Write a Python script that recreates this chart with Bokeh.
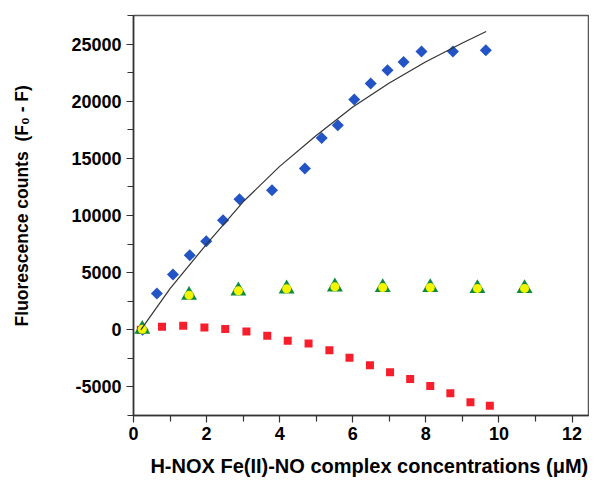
import numpy as np
from bokeh.plotting import figure
from bokeh.models import Range1d, FixedTicker
from bokeh.embed import file_html
from bokeh.resources import INLINE

# ---- data ----
diamond_x = [0.25, 0.64, 1.08, 1.54, 1.99, 2.45, 2.90, 3.79, 4.69, 5.15, 5.59, 6.04,
             6.49, 6.95, 7.39, 7.88, 8.74, 9.64]
diamond_y = [0, 3180, 4840, 6530, 7750, 9590, 11430, 12210, 14110, 16780, 17890, 20140,
             21540, 22700, 23430, 24360, 24360, 24450]

square_x = [0.2, 0.78, 1.36, 1.94, 2.51, 3.09, 3.66, 4.22, 4.79, 5.36, 5.91, 6.47,
            7.02, 7.57, 8.12, 8.67, 9.22, 9.75]
square_y = [0, 270, 350, 210, 60, -140, -520, -960, -1190, -1800, -2450, -3110,
            -3720, -4310, -4920, -5560, -6350, -6640]

tri_x = [0.24, 1.52, 2.87, 4.19, 5.51, 6.82, 8.12, 9.41, 10.70]
tri_y = [50, 3030, 3410, 3590, 3760, 3700, 3700, 3620, 3620]

fit_x = [0.2, 1.0, 2.0, 3.0, 4.0, 5.0, 6.0, 7.0, 8.0, 9.0, 9.65]
fit_y = [0, 3600, 7500, 11200, 14300, 17000, 19500, 21600, 23450, 25100, 26100]

x_ticks = [0, 2, 4, 6, 8, 10, 12]
x_minor = [1, 3, 5, 7, 9, 11]
y_ticks = [-5000, 0, 5000, 10000, 15000, 20000, 25000]
y_minor = [-7500, -2500, 2500, 7500, 12500, 17500, 22500, 27500]
y_tick_labels = ["-5000", "0", "5000", "10000", "15000", "20000", "25000"]

x_title = "H-NOX Fe(II)-NO complex concentrations (\u03bcM)"
y_title = "Fluorescence counts\u00a0\u00a0(F\u2080 - F)"

FONT = "Liberation Sans"
NB = "\u00a0"

p = figure(width=589, height=483, output_backend="svg", toolbar_location=None,
           x_range=Range1d(0, 12.45), y_range=Range1d(-7500, 27500),
           min_border_left=133, min_border_top=15, min_border_right=1,
           min_border_bottom=68)

p.xgrid.visible = False
p.ygrid.visible = False
p.background_fill_color = "white"
p.border_fill_color = "white"
p.outline_line_color = "#555555"
p.outline_line_width = 1.5

for ax in (p.xaxis[0], p.yaxis[0]):
    ax.axis_line_color = "#333333"
    ax.axis_line_width = 1.5
    ax.major_tick_line_color = "#333333"
    ax.minor_tick_line_color = "#333333"
    ax.major_tick_line_width = 1.2
    ax.minor_tick_line_width = 1.2
    ax.major_tick_in = 0
    ax.minor_tick_in = 0
    ax.major_tick_out = 7
    ax.minor_tick_out = 6
    ax.major_label_text_font = FONT
    ax.major_label_text_font_style = "bold"
    ax.major_label_text_font_size = "18px"
    ax.major_label_text_color = "black"
    ax.axis_label_text_font = FONT
    ax.axis_label_text_font_style = "bold"
    ax.axis_label_text_color = "black"

p.xaxis[0].ticker = FixedTicker(ticks=x_ticks, minor_ticks=x_minor)
p.yaxis[0].ticker = FixedTicker(ticks=y_ticks, minor_ticks=y_minor)
p.yaxis[0].major_label_overrides = {t: s for t, s in zip(y_ticks, y_tick_labels)}
p.xaxis[0].major_label_standoff = 4
p.yaxis[0].major_label_standoff = 5

p.xaxis[0].axis_label = NB * 3 + x_title
p.xaxis[0].axis_label_text_font_size = "20px"
p.xaxis[0].axis_label_standoff = 12
p.yaxis[0].axis_label = NB * 4 + y_title
p.yaxis[0].axis_label_text_font_size = "17.5px"
p.yaxis[0].axis_label_standoff = 36

# markers
p.scatter(square_x, square_y, marker="square", size=8, fill_color="#f81e2c", line_color=None)
p.scatter(diamond_x, diamond_y, marker="square", angle=np.pi / 4, size=8.5,
          fill_color="#2354c6", line_color=None)
p.scatter(tri_x, tri_y, marker="triangle", size=16, fill_color="#0f8a3c", line_color=None)
p.scatter(tri_x, tri_y, marker="circle", size=9, fill_color="#f5f500", line_color=None)
p.line(fit_x, fit_y, line_color="#333333", line_width=1.2)

open("out.html", "w").write(file_html(p, INLINE))
